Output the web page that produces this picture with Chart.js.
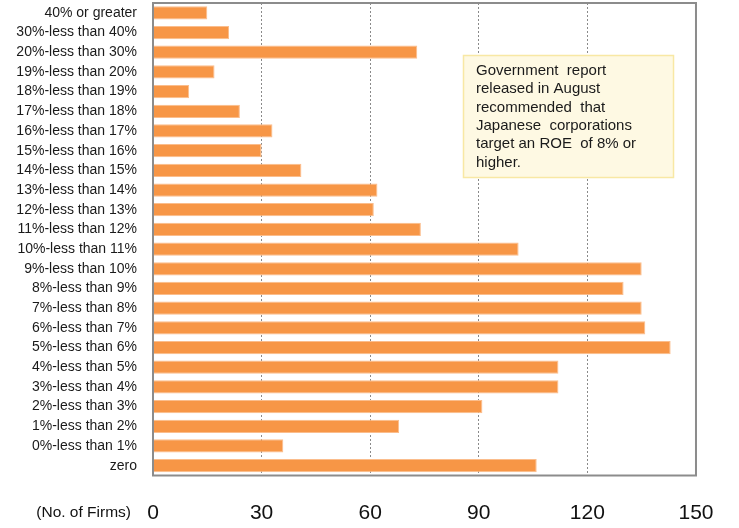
<!DOCTYPE html>
<html>
<head>
<meta charset="utf-8">
<script src="https://cdn.jsdelivr.net/npm/chart.js@4.4.1/dist/chart.umd.min.js"></script>
<style>
  html, body { margin: 0; padding: 0; background: #fff; }
  #wrap { width: 739px; height: 528px; }
</style>
</head>
<body>
<div id="wrap"><canvas id="myChart" width="739" height="528"></canvas></div>
<script>
'use strict';

// ROE bands, top to bottom
var categories = ['40% or greater', '30%-less than 40%', '20%-less than 30%', '19%-less than 20%',
  '18%-less than 19%', '17%-less than 18%', '16%-less than 17%', '15%-less than 16%',
  '14%-less than 15%', '13%-less than 14%', '12%-less than 13%', '11%-less than 12%',
  '10%-less than 11%', '9%-less than 10%', '8%-less than 9%', '7%-less than 8%',
  '6%-less than 7%', '5%-less than 6%', '4%-less than 5%', '3%-less than 4%',
  '2%-less than 3%', '1%-less than 2%', '0%-less than 1%', 'zero'];

// number of firms in each band
var firms = [15, 21, 73, 17, 10, 24, 33, 30, 41, 62, 61, 74,
  101, 135, 130, 135, 136, 143, 112, 112, 91, 68, 36, 106];

var xTicks = [0, 30, 60, 90, 120, 150];

var noteLines = ['Government  report', 'released in August', 'recommended  that',
  'Japanese  corporations', 'target an ROE  of 8% or', 'higher.'];

var FONT = '"Liberation Sans", Arial, sans-serif';

// frame round the plot area, the unit label and the note box
var extras = {
  id: 'extras',
  afterDraw: function(chart) {
    var c = chart.ctx;
    var a = chart.chartArea;
    c.save();
    c.strokeStyle = '#8c8c8c';
    c.lineWidth = 2;
    c.strokeRect(a.left, a.top, a.right - a.left, a.bottom - a.top);

    c.fillStyle = '#111';
    c.font = '15.5px ' + FONT;
    c.textAlign = 'right';
    c.textBaseline = 'middle';
    c.fillText('(No. of Firms)', 131, 513);

    // note box
    c.fillStyle = '#fef9e3';
    c.fillRect(463.5, 55.5, 210, 122);
    c.strokeStyle = '#f8e8a4';
    c.lineWidth = 1.5;
    c.strokeRect(463.5, 55.5, 210, 122);
    c.fillStyle = '#1a1a1a';
    c.font = '15px ' + FONT;
    c.textAlign = 'left';
    noteLines.forEach(function(line, i) {
      c.fillText(line, 476, 71 + i * 18.3);
    });
    c.restore();
  }
};

var ctx = document.getElementById('myChart').getContext('2d');

var chart = new Chart(ctx, {
  type: 'bar',
  data: {
    labels: categories,
    datasets: [{
      label: 'No. of Firms',
      data: firms,
      backgroundColor: '#f79646',
      borderColor: '#fbbd8c',
      borderWidth: 1,
      barPercentage: 0.67,
      categoryPercentage: 1
    }]
  },
  options: {
    indexAxis: 'y',
    responsive: false,
    animation: false,
    layout: { padding: { top: 3, right: 42.5, left: 0, bottom: 0 } },
    plugins: {
      legend: { display: false },
      tooltip: { enabled: false }
    },
    scales: {
      x: {
        min: 0,
        max: 150,
        afterBuildTicks: function(scale) {
          scale.ticks = xTicks.map(function(v) { return { value: v }; });
        },
        afterFit: function(scale) {
          scale.height = 52.5;
        },
        // in v4 the grid line dash is taken from border.dash
        border: { display: false, dash: [2, 2] },
        grid: {
          drawTicks: false,
          lineWidth: 1,
          color: function(c) {
            return (c.tick && (c.tick.value === 0 || c.tick.value === 150)) ? 'rgba(0,0,0,0)' : '#8a8a8a';
          }
        },
        ticks: {
          color: '#111',
          padding: 25.5,
          font: { family: FONT, size: 21 },
          maxRotation: 0
        }
      },
      y: {
        afterFit: function(scale) {
          scale.width = 153;
          scale.paddingTop = 0;
          scale.paddingBottom = 0;
        },
        border: { display: false },
        grid: { display: false, drawTicks: false },
        ticks: {
          color: '#1a1a1a',
          padding: 16,
          autoSkip: false,
          font: { family: FONT, size: 14 }
        }
      }
    }
  },
  plugins: [extras]
});
</script>
</body>
</html>
